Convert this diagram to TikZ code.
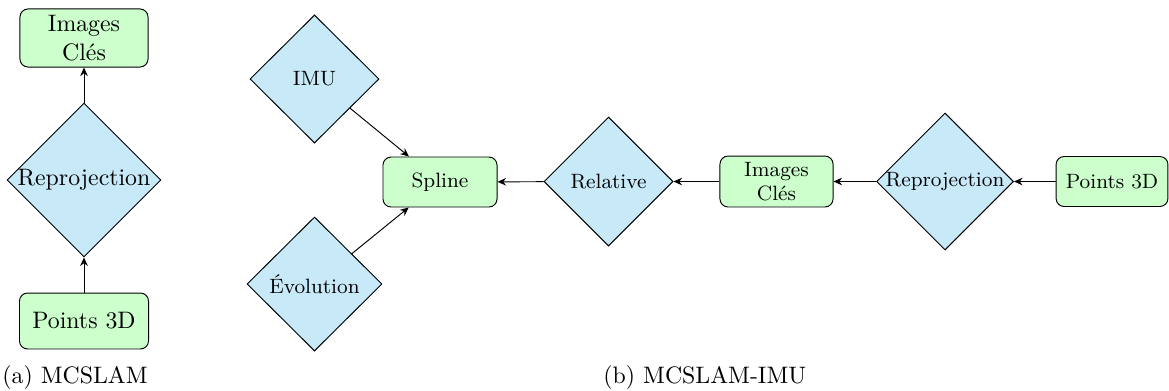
\documentclass[tikz,border=0pt]{standalone}
\usetikzlibrary{shapes.geometric,arrows.meta}
\definecolor{boxgreen}{RGB}{204,255,204}
\definecolor{diablue}{RGB}{199,233,248}
\tikzset{
  pbox/.style={draw=black, fill=boxgreen, rounded corners=3.4pt, align=center, inner sep=1pt},
  pdia/.style={draw=black, fill=diablue, diamond, aspect=1, inner sep=0pt, align=center},
  arr/.style={draw=black, line width=0.4pt, -{Stealth[length=3.6pt,width=3.2pt,inset=1.2pt]}},
  bigf/.style={font=\fontsize{10}{12}\selectfont},
  smallf/.style={font=\fontsize{8.7}{10.2}\selectfont},
  capt/.style={font=\fontsize{10}{12}\selectfont, inner sep=0pt, anchor=base west}
}
\begin{document}
\begin{tikzpicture}[x=0.42pt,y=-0.42pt]
\useasboundingbox (0,0) rectangle (1169,390);
% left panel
\node[pbox,bigf,minimum width=53.8pt,minimum height=24.4pt] (lkey) at (84,38) {Images\\Clés};
\node[pdia,bigf,minimum width=63.4pt,minimum height=63pt] (lrep) at (84,180) {Reprojection};
\node[pbox,bigf,minimum width=54.2pt,minimum height=23.5pt] (lpts) at (84,321) {Points 3D};
\draw[arr] (lpts) -- (lrep);
\draw[arr] (lrep) -- (lkey);
\node[capt] (capa) at (2,383) {(a) MCSLAM};
% right panel
\node[pdia,smallf,minimum width=54.2pt,minimum height=53.8pt] (imu) at (314.5,79) {IMU};
\node[pdia,smallf,minimum width=56.7pt,minimum height=56.3pt] (evo) at (314.5,284) {Évolution};
\node[pbox,smallf,minimum width=47.9pt,minimum height=21pt] (spl) at (440,182) {Spline};
\node[pdia,smallf,minimum width=54.2pt,minimum height=54.2pt] (rel) at (608.5,181.5) {Relative};
\node[pbox,smallf,minimum width=47.5pt,minimum height=21.4pt] (rkey) at (776.5,181.5) {Images\\Clés};
\node[pdia,smallf,minimum width=56.3pt,minimum height=55.4pt] (rrep) at (945,181.5) {Reprojection};
\node[pbox,smallf,minimum width=47pt,minimum height=21pt] (rpts) at (1112,181.5) {Points 3D};
\draw[arr] (imu) -- (spl);
\draw[arr] (evo) -- (spl);
\draw[arr] (rel) -- (spl);
\draw[arr] (rkey) -- (rel);
\draw[arr] (rrep) -- (rkey);
\draw[arr] (rpts) -- (rrep);
\node[capt] (capb) at (603,383) {(b) MCSLAM-IMU};
\end{tikzpicture}
\end{document}
